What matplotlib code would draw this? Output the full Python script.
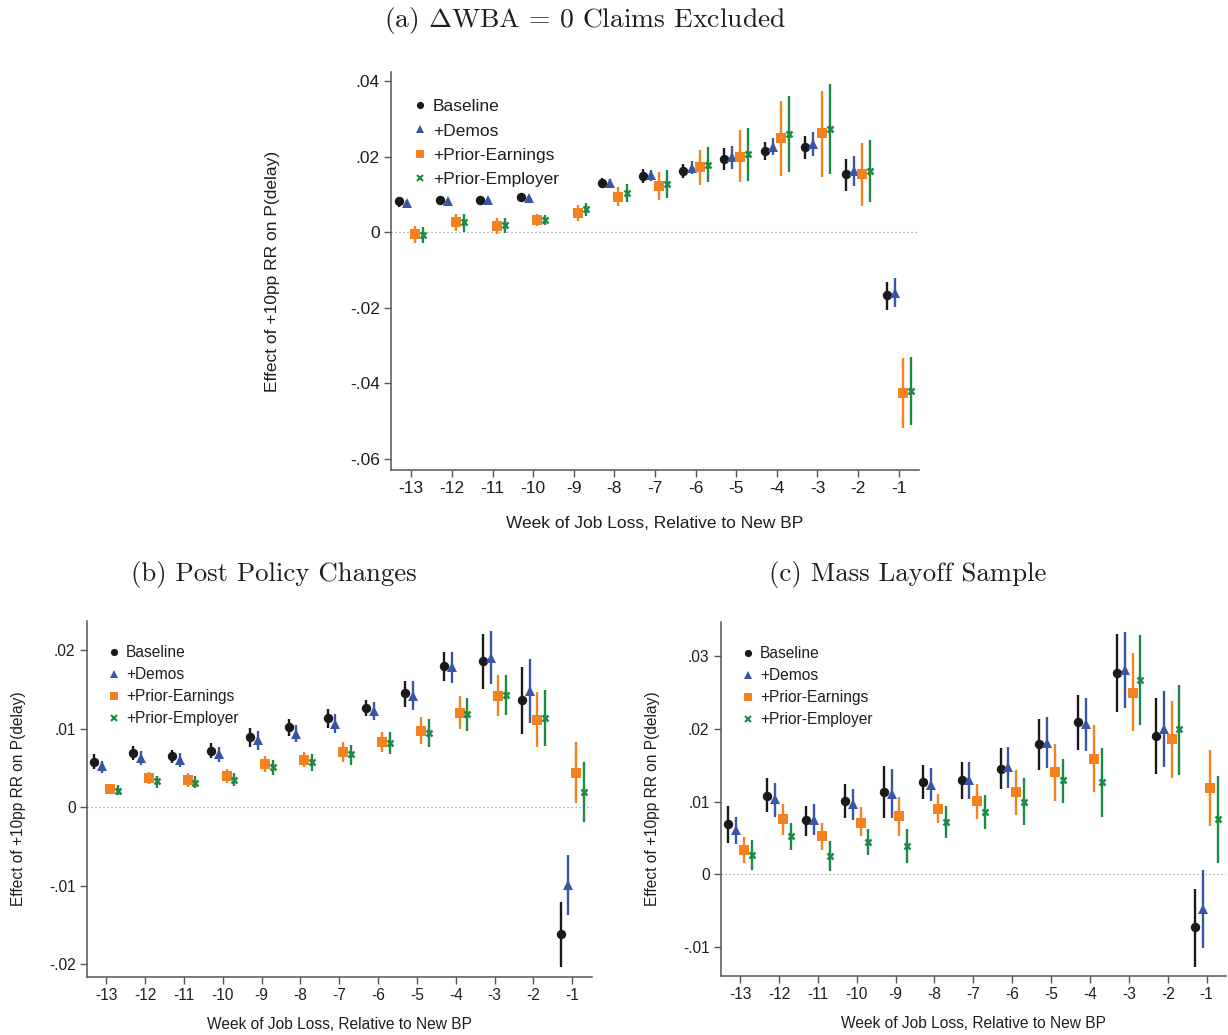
import numpy as np
import matplotlib
matplotlib.use("Agg")
import matplotlib.pyplot as plt
from matplotlib.lines import Line2D
from matplotlib.ticker import FixedLocator, FuncFormatter

nan = np.nan

weeks = [-13, -12, -11, -10, -9, -8, -7, -6, -5, -4, -3, -2, -1]
series_names = ["Baseline", "+Demos", "+Prior-Earnings", "+Prior-Employer"]

# ---- (a) dWBA = 0 claims excluded ----
a_base = [0.0083, 0.0086, 0.0086, 0.0093, nan, 0.0130, 0.0149, 0.0162, 0.0194, 0.0215, 0.0225, 0.0154, -0.0167]
a_base_lo = [0.0068, 0.0077, 0.0078, 0.0082, nan, 0.0117, 0.0131, 0.0143, 0.0165, 0.0192, 0.0194, 0.0110, -0.0206]
a_base_hi = [0.0094, 0.0094, 0.0093, 0.0100, nan, 0.0143, 0.0167, 0.0180, 0.0223, 0.0239, 0.0256, 0.0194, -0.0132]
a_demo = [0.0078, 0.0083, 0.0085, 0.0092, nan, 0.0131, 0.0151, 0.0171, 0.0199, 0.0227, 0.0235, 0.0163, -0.0160]
a_demo_lo = [0.0071, 0.0077, 0.0079, 0.0087, nan, 0.0120, 0.0137, 0.0154, 0.0169, 0.0205, 0.0203, 0.0124, -0.0198]
a_demo_hi = [0.0087, 0.0089, 0.0091, 0.0097, nan, 0.0142, 0.0165, 0.0189, 0.0229, 0.0249, 0.0267, 0.0202, -0.0122]
a_earn = [-0.0005, 0.0027, 0.0017, 0.0034, 0.0052, 0.0094, 0.0124, 0.0172, 0.0201, 0.0249, 0.0262, 0.0154, -0.0427]
a_earn_lo = [-0.0027, 0.0003, -0.0005, 0.0017, 0.0030, 0.0070, 0.0087, 0.0125, 0.0134, 0.0149, 0.0147, 0.0070, -0.0519]
a_earn_hi = [0.0017, 0.0048, 0.0037, 0.0048, 0.0072, 0.0119, 0.0161, 0.0218, 0.0271, 0.0348, 0.0374, 0.0236, -0.0334]
a_empl = [-0.0008, 0.0027, 0.0019, 0.0033, 0.0061, 0.0103, 0.0128, 0.0179, 0.0207, 0.0261, 0.0273, 0.0163, -0.0420]
a_empl_lo = [-0.0029, 0.0002, -0.0001, 0.0019, 0.0044, 0.0080, 0.0090, 0.0133, 0.0137, 0.0161, 0.0154, 0.0081, -0.0511]
a_empl_hi = [0.0015, 0.0048, 0.0038, 0.0047, 0.0077, 0.0127, 0.0165, 0.0225, 0.0276, 0.0361, 0.0392, 0.0245, -0.0330]

# ---- (b) post policy changes ----
b_base = [0.00575, 0.0069, 0.0065, 0.0072, 0.0089, 0.0102, 0.0113, 0.0126, 0.0145, 0.0180, 0.0186, 0.0136, -0.0162]
b_base_lo = [0.0048, 0.0060, 0.0056, 0.0063, 0.0077, 0.0091, 0.0101, 0.0116, 0.0128, 0.0161, 0.0151, 0.0093, -0.0204]
b_base_hi = [0.0068, 0.0078, 0.0073, 0.0082, 0.0101, 0.0112, 0.0125, 0.0137, 0.0160, 0.0197, 0.0221, 0.0179, -0.0121]
b_demo = [0.0052, 0.0062, 0.0060, 0.0067, 0.0085, 0.0093, 0.0106, 0.0123, 0.0142, 0.0178, 0.0190, 0.0148, -0.0099]
b_demo_lo = [0.0043, 0.0053, 0.0051, 0.0058, 0.0073, 0.0083, 0.0094, 0.0111, 0.0124, 0.0158, 0.0157, 0.0107, -0.0138]
b_demo_hi = [0.0059, 0.0072, 0.0069, 0.0076, 0.0097, 0.0104, 0.0118, 0.0134, 0.0160, 0.0197, 0.0224, 0.0188, -0.0061]
b_earn = [0.0023, 0.0037, 0.0034, 0.0040, 0.0055, 0.0060, 0.0070, 0.0083, 0.0097, 0.0120, 0.0142, 0.0111, 0.0043]
b_earn_lo = [0.0017, 0.0030, 0.0026, 0.0031, 0.0045, 0.0051, 0.0057, 0.0070, 0.0080, 0.0100, 0.0116, 0.0076, 0.0005]
b_earn_hi = [0.0029, 0.0045, 0.0043, 0.0048, 0.0065, 0.0070, 0.0083, 0.0095, 0.0115, 0.0141, 0.0168, 0.0146, 0.0083]
b_empl = [0.0021, 0.0033, 0.0031, 0.0035, 0.0051, 0.0057, 0.0067, 0.0082, 0.0094, 0.0119, 0.0143, 0.0114, 0.0019]
b_empl_lo = [0.0015, 0.0024, 0.0024, 0.0027, 0.0041, 0.0046, 0.0054, 0.0068, 0.0077, 0.0097, 0.0117, 0.0078, -0.0019]
b_empl_hi = [0.0028, 0.0040, 0.0039, 0.0043, 0.0060, 0.0067, 0.0079, 0.0095, 0.0112, 0.0139, 0.0168, 0.0149, 0.0057]

# ---- (c) mass layoff sample ----
c_base = [0.0069, 0.0108, 0.0074, 0.0101, 0.0113, 0.0127, 0.0130, 0.0145, 0.0179, 0.0209, 0.0277, 0.0190, -0.0073]
c_base_lo = [0.0043, 0.0085, 0.0052, 0.0078, 0.0078, 0.0104, 0.0104, 0.0117, 0.0143, 0.0171, 0.0223, 0.0138, -0.0127]
c_base_hi = [0.0094, 0.0132, 0.0094, 0.0124, 0.0149, 0.0150, 0.0155, 0.0173, 0.0213, 0.0247, 0.0330, 0.0242, -0.0021]
c_demo = [0.0061, 0.0103, 0.0075, 0.0096, 0.0111, 0.0123, 0.0129, 0.0147, 0.0181, 0.0206, 0.0281, 0.0200, -0.0048]
c_demo_lo = [0.0042, 0.0079, 0.0054, 0.0075, 0.0078, 0.0101, 0.0104, 0.0119, 0.0146, 0.0169, 0.0229, 0.0148, -0.0102]
c_demo_hi = [0.0079, 0.0126, 0.0096, 0.0117, 0.0145, 0.0146, 0.0155, 0.0175, 0.0216, 0.0242, 0.0333, 0.0252, 0.0006]
c_earn = [0.0033, 0.0076, 0.0053, 0.0071, 0.0080, 0.0090, 0.0101, 0.0113, 0.0140, 0.0159, 0.0250, 0.0186, 0.0118]
c_earn_lo = [0.0016, 0.0054, 0.0034, 0.0053, 0.0053, 0.0070, 0.0076, 0.0082, 0.0101, 0.0113, 0.0197, 0.0133, 0.0066]
c_earn_hi = [0.0051, 0.0096, 0.0070, 0.0092, 0.0106, 0.0110, 0.0124, 0.0143, 0.0179, 0.0205, 0.0304, 0.0239, 0.0171]
c_empl = [0.0027, 0.0053, 0.0025, 0.0045, 0.0039, 0.0072, 0.0085, 0.0100, 0.0129, 0.0127, 0.0267, 0.0200, 0.0076]
c_empl_lo = [0.0006, 0.0033, 0.0005, 0.0027, 0.0016, 0.0050, 0.0062, 0.0068, 0.0098, 0.0079, 0.0205, 0.0137, 0.0015]
c_empl_hi = [0.0047, 0.0070, 0.0046, 0.0062, 0.0062, 0.0094, 0.0109, 0.0132, 0.0159, 0.0174, 0.0329, 0.0261, 0.0135]

a_yticks = [-0.06, -0.04, -0.02, 0.0, 0.02, 0.04]
b_yticks = [-0.02, -0.01, 0.0, 0.01, 0.02]
c_yticks = [-0.01, 0.0, 0.01, 0.02, 0.03]

titles = ["(a) $\\Delta$WBA = 0 Claims Excluded", "(b) Post Policy Changes", "(c) Mass Layoff Sample"]
xlabel = "Week of Job Loss, Relative to New BP"
ylabel = "Effect of +10pp RR on P(delay)"

# ---- styling ----
plt.rcParams["font.family"] = ["Liberation Sans", "DejaVu Sans"]
plt.rcParams["mathtext.fontset"] = "cm"
TEXT = "#1e1e1e"
AXC = "#555555"
colors = ["#1a1a1a", "#3b55a6", "#f58220", "#1d8a48"]
offsets = [-0.3, -0.1, 0.1, 0.3]
markers = ["o", "^", "s", "x"]
msizes = [6.8, 7.8, 6.8, 4.6]
legend_ms = [5.2, 6.4, 5.6, 4.0]


def stata_fmt(v, _pos=None):
    if abs(v) < 1e-12:
        return "0"
    s = f"{v:.2f}".rstrip("0")
    s = s.replace("0.", ".")
    return s


def draw_panel(ax, ests, los, his, ylim, yticks, fs, leg_anchor, ylab_x, xlab_y, leg_space):
    ax.axhline(0, color="#9a9a9a", lw=0.9, ls=(0, (1, 2.2)), zorder=1)
    for k in range(4):
        x = np.array(weeks, float) + offsets[k]
        e = np.array(ests[k], float)
        lo = np.array(los[k], float)
        hi = np.array(his[k], float)
        ax.vlines(x, lo, hi, color=colors[k], lw=1.7, zorder=2)
        mew = 1.8 if markers[k] == "x" else 0
        ax.plot(x, e, ls="none", marker=markers[k], ms=msizes[k], color=colors[k],
                mew=mew, zorder=3)
    ax.set_xlim(-13.5, -0.5)
    ax.set_ylim(*ylim)
    ax.xaxis.set_major_locator(FixedLocator(weeks))
    ax.set_xticklabels([str(w) for w in weeks])
    ax.yaxis.set_major_locator(FixedLocator(yticks))
    ax.yaxis.set_major_formatter(FuncFormatter(stata_fmt))
    for side in ("top", "right"):
        ax.spines[side].set_visible(False)
    for side in ("left", "bottom"):
        ax.spines[side].set_color(AXC)
        ax.spines[side].set_linewidth(1.1)
    ax.tick_params(direction="out", length=5, width=1.0, color=AXC,
                   labelsize=fs, labelcolor=TEXT, pad=3)
    ax.set_xlabel(xlabel, fontsize=fs, color=TEXT)
    ax.set_ylabel(ylabel, fontsize=fs, color=TEXT)
    ax.xaxis.set_label_coords(0.5, xlab_y)
    ax.yaxis.set_label_coords(ylab_x, 0.5)
    handles = [Line2D([], [], ls="none", marker=markers[k], ms=legend_ms[k], color=colors[k],
                      mew=(1.5 if markers[k] == "x" else 0)) for k in range(4)]
    leg = ax.legend(handles, series_names, loc="upper left", bbox_to_anchor=leg_anchor,
                    frameon=False, fontsize=fs, handlelength=0.6, handletextpad=0.45,
                    labelspacing=leg_space, borderpad=0, borderaxespad=0)
    for t in leg.get_texts():
        t.set_color(TEXT)


fig = plt.figure(figsize=(12.28, 10.35), dpi=100)
W, H = 1228.0, 1035.0


def add_axes_px(left, right, top, bottom):
    return fig.add_axes([left / W, 1 - bottom / H, (right - left) / W, (bottom - top) / H])


ax_a = add_axes_px(391, 919, 72, 470)
ax_b = add_axes_px(86.7, 591.7, 621, 976.7)
ax_c = add_axes_px(720.7, 1226, 622, 976)

draw_panel(ax_a, [a_base, a_demo, a_earn, a_empl], [a_base_lo, a_demo_lo, a_earn_lo, a_empl_lo],
           [a_base_hi, a_demo_hi, a_earn_hi, a_empl_hi], (-0.063, 0.0425), a_yticks, 12.5,
           (0.045, 0.932), -0.2095, -0.115, 0.53)
draw_panel(ax_b, [b_base, b_demo, b_earn, b_empl], [b_base_lo, b_demo_lo, b_earn_lo, b_empl_lo],
           [b_base_hi, b_demo_hi, b_earn_hi, b_empl_hi], (-0.0216, 0.0237), b_yticks, 11.2,
           (0.045, 0.932), -0.120, -0.113, 0.45)
draw_panel(ax_c, [c_base, c_demo, c_earn, c_empl], [c_base_lo, c_demo_lo, c_earn_lo, c_empl_lo],
           [c_base_hi, c_demo_hi, c_earn_hi, c_empl_hi], (-0.0140, 0.0347), c_yticks, 11.2,
           (0.045, 0.932), -0.120, -0.113, 0.45)

fig.text(585 / W, 1 - 20 / H, titles[0], fontsize=19.8, family="cmr10", color=TEXT,
         ha="center", va="center")
fig.text(274 / W, 1 - 574 / H, titles[1], fontsize=19.3, family="cmr10", color=TEXT,
         ha="center", va="center")
fig.text(908 / W, 1 - 574 / H, titles[2], fontsize=19.3, family="cmr10", color=TEXT,
         ha="center", va="center")

fig.savefig("out.png", dpi=100, facecolor="white")
